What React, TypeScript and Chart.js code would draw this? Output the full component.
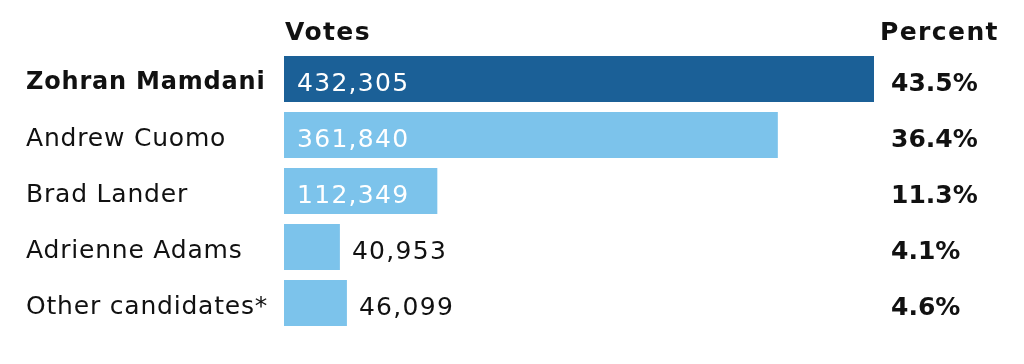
import React, { useEffect, useRef } from "react";
import { Chart, registerables } from "chart.js";

Chart.register(...registerables);

const categories = ["Zohran Mamdani", "Andrew Cuomo", "Brad Lander", "Adrienne Adams", "Other candidates*"];
const votes = [432305, 361840, 112349, 40953, 46099];
const percents = ["43.5%", "36.4%", "11.3%", "4.1%", "4.6%"];
const headerVotes = "Votes";
const headerPercent = "Percent";

const FAMILY = '"DejaVu Sans", sans-serif';
const SIZE = 25;
const DARK = "#1b6097";
const LIGHT = "#7cc3eb";
const INK = "#111111";

const spacingPlugin = {
  id: "spacingPlugin",
  beforeDraw(chart: any) {
    (chart.ctx as any).letterSpacing = "0.8px";
  },
};

const labelsPlugin = {
  id: "labelsPlugin",
  afterDatasetsDraw(chart: any) {
    const ctx = chart.ctx as any;
    const meta = chart.getDatasetMeta(0);
    const area = chart.chartArea;
    ctx.save();
    ctx.textBaseline = "alphabetic";
    ctx.textAlign = "left";
    meta.data.forEach((bar: any, i: number) => {
      const p = bar.getProps(["x", "y", "base"], true);
      const text = votes[i].toLocaleString("en-US");
      ctx.letterSpacing = "1.3px";
      ctx.font = `normal ${SIZE}px ${FAMILY}`;
      const w = ctx.measureText(text).width;
      const baseline = p.y + 11.5;
      if (p.x - p.base > w + 26) {
        ctx.fillStyle = "#ffffff";
        ctx.fillText(text, p.base + 13, baseline);
      } else {
        ctx.fillStyle = INK;
        ctx.fillText(text, p.x + 12, baseline);
      }
      ctx.letterSpacing = "0px";
      ctx.font = `bold ${SIZE}px ${FAMILY}`;
      ctx.fillStyle = INK;
      ctx.fillText(percents[i], area.right + 17, baseline);
    });
    ctx.letterSpacing = "1.4px";
    ctx.font = `bold ${SIZE}px ${FAMILY}`;
    ctx.fillStyle = INK;
    ctx.fillText(headerVotes, area.left + 1, 40);
    ctx.fillText(headerPercent, area.right + 6, 40);
    ctx.restore();
    ctx.letterSpacing = "0.8px";
  },
};

export default function App() {
  const ref = useRef<HTMLCanvasElement | null>(null);
  useEffect(() => {
    if (!ref.current) return;
    const chart = new Chart(ref.current, {
      type: "bar",
      data: {
        labels: categories,
        datasets: [
          {
            data: votes,
            backgroundColor: (c: any) => (c.dataIndex === 0 ? DARK : LIGHT),
            borderWidth: 0,
            barPercentage: 0.82,
            categoryPercentage: 1,
          },
        ],
      },
      options: {
        indexAxis: "y",
        responsive: false,
        animation: false,
        devicePixelRatio: 1,
        layout: { padding: { left: 26, right: 150, top: 51, bottom: 33 } },
        plugins: { legend: { display: false }, tooltip: { enabled: false }, title: { display: false } },
        scales: {
          x: { display: false, min: 0, max: 432305 },
          y: {
            grid: { display: false },
            border: { display: false },
            afterFit: (scale: any) => {
              scale.width = 258;
            },
            ticks: {
              crossAlign: "far",
              labelOffset: 4,
              color: INK,
              font: (c: any) =>
                c.index === 0
                  ? { family: FAMILY, size: 24, weight: "bold" }
                  : { family: FAMILY, size: SIZE, weight: "normal" },
            },
          },
        },
      },
      plugins: [spacingPlugin, labelsPlugin],
    } as any);
    return () => chart.destroy();
  }, []);
  return (
    <div style={{ position: "absolute", left: 0, top: 0, width: 1024, height: 364, background: "#fff" }}>
      <canvas ref={ref} width={1024} height={364} />
    </div>
  );
}
